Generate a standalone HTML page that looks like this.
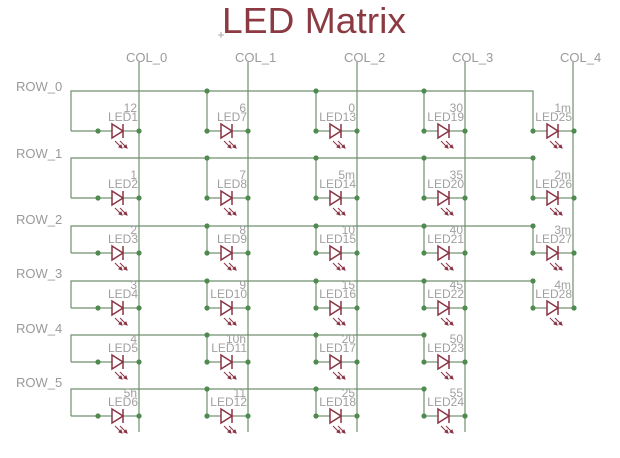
<!DOCTYPE html>
<html><head><meta charset="utf-8"><style>
html,body{margin:0;padding:0;background:#fff;width:620px;height:458px;overflow:hidden}
svg{display:block}
.w{stroke:#6f8f6f;stroke-width:1.2;fill:none}
.t{font-family:"Liberation Sans",sans-serif;font-size:12px;fill:#a0a0a0;text-anchor:end}
.l{font-family:"Liberation Sans",sans-serif;font-size:13px;fill:#9a9a9a}
</style></head><body>
<svg width="620" height="458" viewBox="0 0 620 458" xmlns="http://www.w3.org/2000/svg">
<defs>
<g id="d">
<line class="w" x1="-41" y1="0" x2="-27" y2="0"/>
<line class="w" x1="-16" y1="0" x2="0" y2="0"/>
<polygon points="-27,-7 -27,7 -16,0" fill="none" stroke="#8a3344" stroke-width="1.5"/>
<line x1="-16" y1="-7" x2="-16" y2="7" stroke="#8a3344" stroke-width="1.5"/>
<g stroke="#8a3344" stroke-width="1" fill="#8a3344">
<line x1="-24" y1="10" x2="-18" y2="16"/><line x1="-19" y1="10" x2="-13" y2="16"/>
<polygon points="-17,17 -20,16 -18,14"/><polygon points="-12,17 -15,16 -13,14"/>
</g>
<circle cx="-41" cy="0" r="2.6" fill="#4f8a4f"/>
<circle cx="0" cy="0" r="2.6" fill="#4f8a4f"/>
</g>
</defs>
<text x="222" y="33" font-family="Liberation Sans, sans-serif" font-size="36" fill="#8b3a42" textLength="184" lengthAdjust="spacingAndGlyphs">LED Matrix</text>
<g stroke="#999" stroke-width="0.8"><line x1="218" y1="35" x2="224" y2="35"/><line x1="221" y1="32" x2="221" y2="38"/></g>

<!-- column wires -->
<line class="w" x1="139" y1="62" x2="139" y2="432"/>
<line class="w" x1="248" y1="62" x2="248" y2="432"/>
<line class="w" x1="357" y1="62" x2="357" y2="432"/>
<line class="w" x1="465" y1="62" x2="465" y2="432"/>
<line class="w" x1="573" y1="62" x2="573" y2="308"/>
<text class="l" x="126" y="62">COL_0</text>
<text class="l" x="235" y="62">COL_1</text>
<text class="l" x="344" y="62">COL_2</text>
<text class="l" x="452" y="62">COL_3</text>
<text class="l" x="560" y="62">COL_4</text>

<!-- row wires -->
<g class="w">
<path d="M71 131 V91 H533 V131"/>
<path d="M71 198 V158 H533 V198"/>
<path d="M71 253 V226 H533 V253"/>
<path d="M71 308 V281 H533 V308"/>
<path d="M71 362 V335 H424 V362"/>
<path d="M71 416 V389 H424 V416"/>
<line x1="71" y1="131" x2="98" y2="131"/><line x1="71" y1="198" x2="98" y2="198"/>
<line x1="71" y1="253" x2="98" y2="253"/><line x1="71" y1="308" x2="98" y2="308"/>
<line x1="71" y1="362" x2="98" y2="362"/><line x1="71" y1="416" x2="98" y2="416"/>
<path d="M207 91V131M316 91V131M424 91V131"/>
<path d="M207 158V198M316 158V198M424 158V198"/>
<path d="M207 226V253M316 226V253M424 226V253"/>
<path d="M207 281V308M316 281V308M424 281V308"/>
<path d="M207 335V362M316 335V362"/>
<path d="M207 389V416M316 389V416"/>
</g>
<g fill="#4f8a4f">
<circle cx="207" cy="91" r="2.6"/><circle cx="316" cy="91" r="2.6"/><circle cx="424" cy="91" r="2.6"/>
<circle cx="207" cy="158" r="2.6"/><circle cx="316" cy="158" r="2.6"/><circle cx="424" cy="158" r="2.6"/><circle cx="533" cy="158" r="2.6"/>
<circle cx="207" cy="226" r="2.6"/><circle cx="316" cy="226" r="2.6"/><circle cx="424" cy="226" r="2.6"/><circle cx="533" cy="226" r="2.6"/>
<circle cx="207" cy="281" r="2.6"/><circle cx="316" cy="281" r="2.6"/><circle cx="424" cy="281" r="2.6"/><circle cx="533" cy="281" r="2.6"/>
<circle cx="207" cy="335" r="2.6"/><circle cx="316" cy="335" r="2.6"/><circle cx="424" cy="335" r="2.6"/>
<circle cx="207" cy="389" r="2.6"/><circle cx="316" cy="389" r="2.6"/><circle cx="424" cy="389" r="2.6"/>
</g>
<text class="l" x="16" y="91">ROW_0</text>
<text class="l" x="16" y="158">ROW_1</text>
<text class="l" x="16" y="224">ROW_2</text>
<text class="l" x="16" y="278">ROW_3</text>
<text class="l" x="16" y="333">ROW_4</text>
<text class="l" x="16" y="387">ROW_5</text>

<!-- diodes -->
<use href="#d" x="139" y="131"/><use href="#d" x="248" y="131"/><use href="#d" x="357" y="131"/><use href="#d" x="465" y="131"/><use href="#d" x="574" y="131"/>
<use href="#d" x="139" y="198"/><use href="#d" x="248" y="198"/><use href="#d" x="357" y="198"/><use href="#d" x="465" y="198"/><use href="#d" x="574" y="198"/>
<use href="#d" x="139" y="253"/><use href="#d" x="248" y="253"/><use href="#d" x="357" y="253"/><use href="#d" x="465" y="253"/><use href="#d" x="574" y="253"/>
<use href="#d" x="139" y="308"/><use href="#d" x="248" y="308"/><use href="#d" x="357" y="308"/><use href="#d" x="465" y="308"/><use href="#d" x="574" y="308"/>
<use href="#d" x="139" y="362"/><use href="#d" x="248" y="362"/><use href="#d" x="357" y="362"/><use href="#d" x="465" y="362"/>
<use href="#d" x="139" y="416"/><use href="#d" x="248" y="416"/><use href="#d" x="357" y="416"/><use href="#d" x="465" y="416"/>

<!-- labels -->
<text class="t" x="137" y="112">12</text><text class="t" x="138" y="121">LED1</text>
<text class="t" x="246" y="112">6</text><text class="t" x="247" y="121">LED7</text>
<text class="t" x="355" y="112">0</text><text class="t" x="356" y="121">LED13</text>
<text class="t" x="463" y="112">30</text><text class="t" x="464" y="121">LED19</text>
<text class="t" x="571" y="112">1m</text><text class="t" x="572" y="121">LED25</text>

<text class="t" x="137" y="179">1</text><text class="t" x="138" y="188">LED2</text>
<text class="t" x="246" y="179">7</text><text class="t" x="247" y="188">LED8</text>
<text class="t" x="355" y="179">5m</text><text class="t" x="356" y="188">LED14</text>
<text class="t" x="463" y="179">35</text><text class="t" x="464" y="188">LED20</text>
<text class="t" x="571" y="179">2m</text><text class="t" x="572" y="188">LED26</text>

<text class="t" x="137" y="234">2</text><text class="t" x="138" y="243">LED3</text>
<text class="t" x="246" y="234">8</text><text class="t" x="247" y="243">LED9</text>
<text class="t" x="355" y="234">10</text><text class="t" x="356" y="243">LED15</text>
<text class="t" x="463" y="234">40</text><text class="t" x="464" y="243">LED21</text>
<text class="t" x="571" y="234">3m</text><text class="t" x="572" y="243">LED27</text>

<text class="t" x="137" y="289">3</text><text class="t" x="138" y="298">LED4</text>
<text class="t" x="246" y="289">9</text><text class="t" x="247" y="298">LED10</text>
<text class="t" x="355" y="289">15</text><text class="t" x="356" y="298">LED16</text>
<text class="t" x="463" y="289">45</text><text class="t" x="464" y="298">LED22</text>
<text class="t" x="571" y="289">4m</text><text class="t" x="572" y="298">LED28</text>

<text class="t" x="137" y="343">4</text><text class="t" x="138" y="352">LED5</text>
<text class="t" x="246" y="343">10h</text><text class="t" x="247" y="352">LED11</text>
<text class="t" x="355" y="343">20</text><text class="t" x="356" y="352">LED17</text>
<text class="t" x="463" y="343">50</text><text class="t" x="464" y="352">LED23</text>

<text class="t" x="137" y="397">5h</text><text class="t" x="138" y="406">LED6</text>
<text class="t" x="246" y="397">11</text><text class="t" x="247" y="406">LED12</text>
<text class="t" x="355" y="397">25</text><text class="t" x="356" y="406">LED18</text>
<text class="t" x="463" y="397">55</text><text class="t" x="464" y="406">LED24</text>
</svg>
</body></html>
